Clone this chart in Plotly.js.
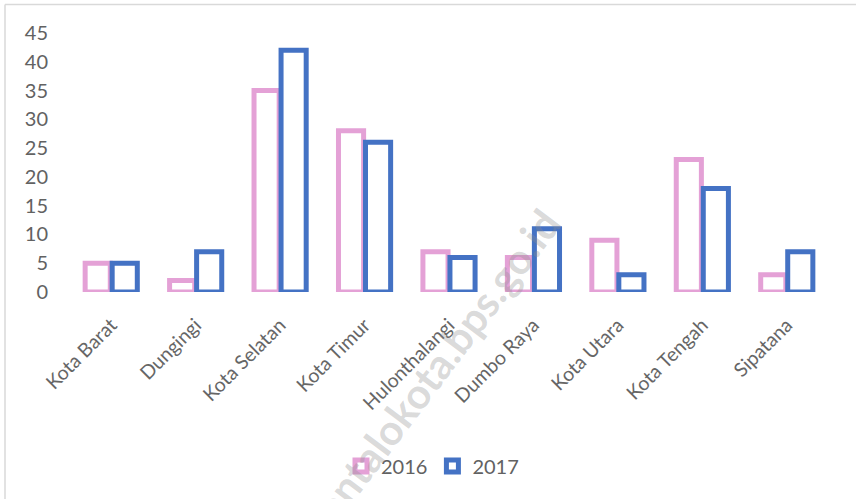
<!DOCTYPE html>
<html>
<head>
<meta charset="utf-8">
<script src="https://cdn.plot.ly/plotly-3.0.1.min.js"></script>
<style>html,body{margin:0;padding:0;background:#fff;}#chart{width:856px;height:499px;}</style>
</head>
<body>
<div id="chart"></div>
<script>
const categories = ["Kota Barat","Dungingi","Kota Selatan","Kota Timur","Hulonthalangi","Dumbo Raya","Kota Utara","Kota Tengah","Sipatana"];
const values2016 = [5,2,35,28,7,6,9,23,3];
const values2017 = [5,7,42,26,6,11,3,18,7];
const yTicks = [0,5,10,15,20,25,30,35,40,45];

const L = 69, R = 27, T = 33, B = 207;
const W = 856 - L - R, H = 499 - T - B;
const px = x => (x - L) / W;
const py = y => (499 - B - y) / H;

const traces = [
  {type:'bar', name:'2016', x:categories, y:values2016,
   marker:{color:'rgba(255,255,255,0)', line:{color:'#E4A1D6', width:5}}},
  {type:'bar', name:'2017', x:categories, y:values2017,
   marker:{color:'rgba(255,255,255,0)', line:{color:'#4472C4', width:5}}}
];

const layout = {
  width:856, height:499,
  margin:{l:L, r:R, t:T, b:B},
  paper_bgcolor:'#fff', plot_bgcolor:'#fff',
  font:{family:'Lato, "Open Sans", sans-serif', color:'#626262'},
  barmode:'group', bargap:0.36, bargroupgap:0.07,
  showlegend:true,
  legend:{orientation:'h', x:px(341), xanchor:'left', y:py(466), yanchor:'middle',
          font:{size:20, color:'#626262'}, itemwidth:30, traceorder:'normal'},
  xaxis:{tickangle:-45, tickfont:{size:19.5, color:'#666666'}, showline:false,
         showgrid:false, ticks:'', zeroline:false, automargin:false, ticklabelstandoff:17},
  yaxis:{range:[0,45], tickvals:yTicks, ticktext:yTicks.map(String), showgrid:false,
         zeroline:false, showline:false, ticks:'', tickfont:{size:20, color:'#626262'},
         automargin:false, ticklabelstandoff:20},
  annotations:[
    {xref:'paper', yref:'paper', x:px(418), y:py(390), xanchor:'center', yanchor:'middle',
     text:'<b>gorontalokota.bps.go.id</b>',
     showarrow:false, textangle:-53, font:{size:42, color:'rgba(140,140,140,0.33)'}}
  ],
  shapes:[
    {type:'line', xref:'paper', yref:'paper', x0:px(5), x1:px(856), y0:py(4.5), y1:py(4.5),
     line:{color:'#D9D9D9', width:1.5}},
    {type:'line', xref:'paper', yref:'paper', x0:px(5), x1:px(5), y0:py(4.5), y1:py(499),
     line:{color:'#D9D9D9', width:1.5}}
  ]
};

Plotly.newPlot('chart', traces, layout, {staticPlot:true, displayModeBar:false});
</script>
</body>
</html>
